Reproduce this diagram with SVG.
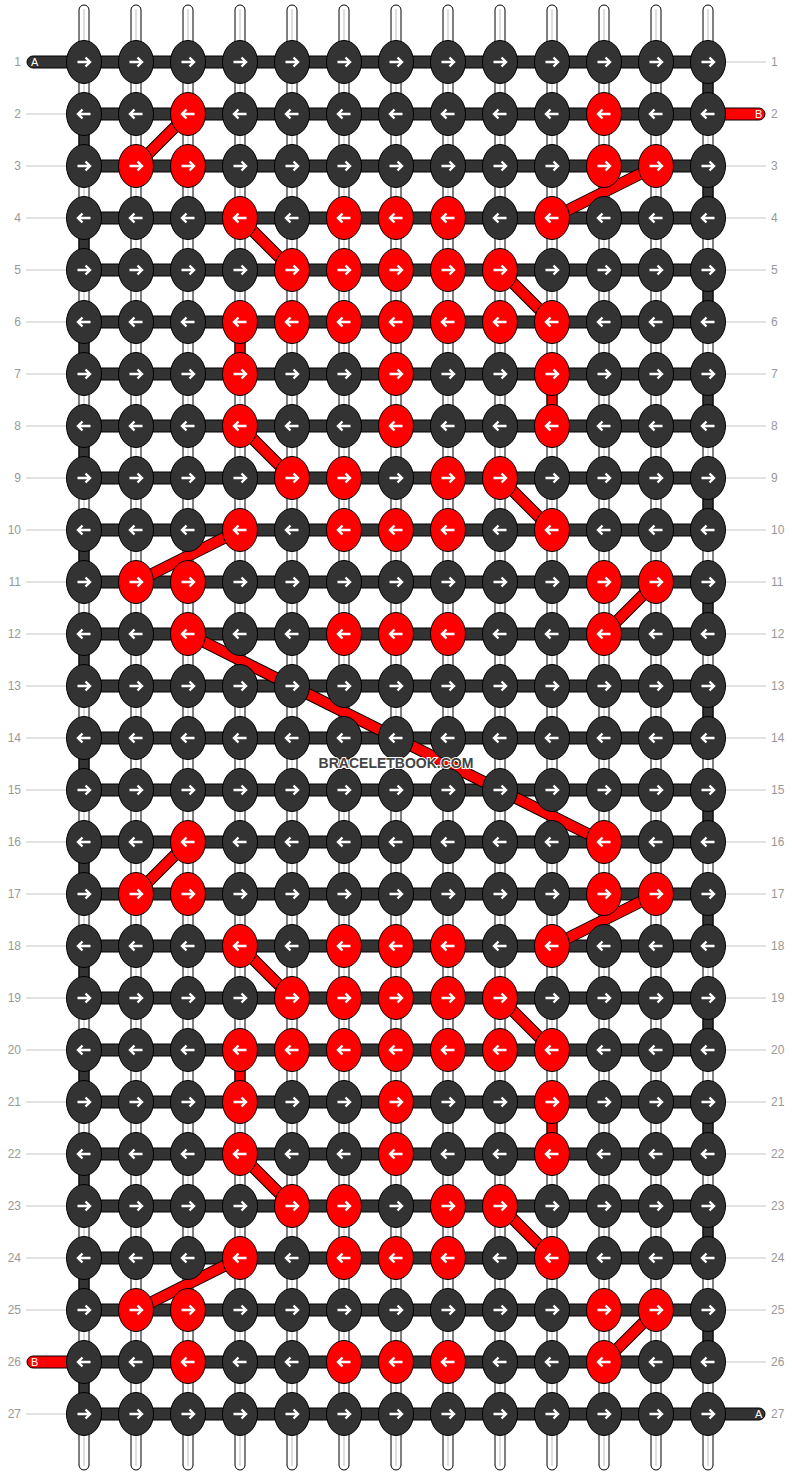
<svg xmlns="http://www.w3.org/2000/svg" xmlns:xlink="http://www.w3.org/1999/xlink" width="792" height="1476" viewBox="0 0 792 1476">
<style>
.ws{fill:#fff;stroke:#000;stroke-width:1}
.wl{stroke:#bbb;stroke-width:1}
.hb{fill:#333;stroke:#000;stroke-width:1}
.rb{fill:#f00;stroke:#000;stroke-width:1}
.ro{stroke:#000;stroke-width:12;fill:none}
.ri{stroke:#f00;stroke-width:10;fill:none}
.gl{stroke:#c4c4c4;stroke-width:1}
.lb{font-family:"Liberation Sans",Arial,sans-serif;font-size:12px;fill:#999}
.lr{text-anchor:end}
.tl{font-family:"Liberation Sans",Arial,sans-serif;font-size:11px;fill:#fff}
.wm{font-family:"Liberation Sans",Arial,sans-serif;font-size:14px;font-weight:bold;fill:#444;stroke:#fff;stroke-width:2;paint-order:stroke;text-anchor:middle}
</style>
<defs>
<path id="aR" d="M-6.5,0H5.5M1.5,-4.5L6,0L1.5,4.5" fill="none" stroke="#fff" stroke-width="2.4"/>
<path id="aL" d="M6.5,0H-5.5M-1.5,-4.5L-6,0L-1.5,4.5" fill="none" stroke="#fff" stroke-width="2.4"/>
<g id="dR"><ellipse rx="17.5" ry="21.5" fill="#333" stroke="#000"/><use href="#aR"/></g>
<g id="dL"><ellipse rx="17.5" ry="21.5" fill="#333" stroke="#000"/><use href="#aL"/></g>
<g id="rR"><ellipse rx="17.5" ry="21.5" fill="#f00" stroke="#000"/><use href="#aR"/></g>
<g id="rL"><ellipse rx="17.5" ry="21.5" fill="#f00" stroke="#000"/><use href="#aL"/></g>
</defs>
<rect width="792" height="1476" fill="#fff"/>
<g id="labels">
<text class="lb lr" x="21" y="66">1</text><text class="lb" x="771" y="66">1</text>
<text class="lb lr" x="21" y="118">2</text><text class="lb" x="771" y="118">2</text>
<text class="lb lr" x="21" y="170">3</text><text class="lb" x="771" y="170">3</text>
<text class="lb lr" x="21" y="222">4</text><text class="lb" x="771" y="222">4</text>
<text class="lb lr" x="21" y="274">5</text><text class="lb" x="771" y="274">5</text>
<text class="lb lr" x="21" y="326">6</text><text class="lb" x="771" y="326">6</text>
<text class="lb lr" x="21" y="378">7</text><text class="lb" x="771" y="378">7</text>
<text class="lb lr" x="21" y="430">8</text><text class="lb" x="771" y="430">8</text>
<text class="lb lr" x="21" y="482">9</text><text class="lb" x="771" y="482">9</text>
<text class="lb lr" x="21" y="534">10</text><text class="lb" x="771" y="534">10</text>
<text class="lb lr" x="21" y="586">11</text><text class="lb" x="771" y="586">11</text>
<text class="lb lr" x="21" y="638">12</text><text class="lb" x="771" y="638">12</text>
<text class="lb lr" x="21" y="690">13</text><text class="lb" x="771" y="690">13</text>
<text class="lb lr" x="21" y="742">14</text><text class="lb" x="771" y="742">14</text>
<text class="lb lr" x="21" y="794">15</text><text class="lb" x="771" y="794">15</text>
<text class="lb lr" x="21" y="846">16</text><text class="lb" x="771" y="846">16</text>
<text class="lb lr" x="21" y="898">17</text><text class="lb" x="771" y="898">17</text>
<text class="lb lr" x="21" y="950">18</text><text class="lb" x="771" y="950">18</text>
<text class="lb lr" x="21" y="1002">19</text><text class="lb" x="771" y="1002">19</text>
<text class="lb lr" x="21" y="1054">20</text><text class="lb" x="771" y="1054">20</text>
<text class="lb lr" x="21" y="1106">21</text><text class="lb" x="771" y="1106">21</text>
<text class="lb lr" x="21" y="1158">22</text><text class="lb" x="771" y="1158">22</text>
<text class="lb lr" x="21" y="1210">23</text><text class="lb" x="771" y="1210">23</text>
<text class="lb lr" x="21" y="1262">24</text><text class="lb" x="771" y="1262">24</text>
<text class="lb lr" x="21" y="1314">25</text><text class="lb" x="771" y="1314">25</text>
<text class="lb lr" x="21" y="1366">26</text><text class="lb" x="771" y="1366">26</text>
<text class="lb lr" x="21" y="1418">27</text><text class="lb" x="771" y="1418">27</text>
</g>
<g id="guides">
<path class="gl" d="M26,114H84M26,166H84M26,218H84M26,270H84M26,322H84M26,374H84M26,426H84M26,478H84M26,530H84M26,582H84M26,634H84M26,686H84M26,738H84M26,790H84M26,842H84M26,894H84M26,946H84M26,998H84M26,1050H84M26,1102H84M26,1154H84M26,1206H84M26,1258H84M26,1310H84M26,1414H84"/>
<path class="gl" d="M708,62H766M708,166H766M708,218H766M708,270H766M708,322H766M708,374H766M708,426H766M708,478H766M708,530H766M708,582H766M708,634H766M708,686H766M708,738H766M708,790H766M708,842H766M708,894H766M708,946H766M708,998H766M708,1050H766M708,1102H766M708,1154H766M708,1206H766M708,1258H766M708,1310H766M708,1362H766"/>
</g>
<g id="connectors">
<g id="strings">
<rect class="ws" x="79" y="5" width="10" height="1465" rx="5"/>
<rect class="ws" x="131" y="5" width="10" height="1465" rx="5"/>
<rect class="ws" x="183" y="5" width="10" height="1465" rx="5"/>
<rect class="ws" x="235" y="5" width="10" height="1465" rx="5"/>
<rect class="ws" x="287" y="5" width="10" height="1465" rx="5"/>
<rect class="ws" x="339" y="5" width="10" height="1465" rx="5"/>
<rect class="ws" x="391" y="5" width="10" height="1465" rx="5"/>
<rect class="ws" x="443" y="5" width="10" height="1465" rx="5"/>
<rect class="ws" x="495" y="5" width="10" height="1465" rx="5"/>
<rect class="ws" x="547" y="5" width="10" height="1465" rx="5"/>
<rect class="ws" x="599" y="5" width="10" height="1465" rx="5"/>
<rect class="ws" x="651" y="5" width="10" height="1465" rx="5"/>
<rect class="ws" x="703" y="5" width="10" height="1465" rx="5"/>
<path class="wl" d="M84,9V1466M136,9V1466M188,9V1466M240,9V1466M292,9V1466M344,9V1466M396,9V1466M448,9V1466M500,9V1466M552,9V1466M604,9V1466M656,9V1466M708,9V1466"/>
</g>
<g id="rows">
<rect class="hb" x="27" y="56" width="681" height="12" rx="6"/>
<rect class="hb" x="84" y="108" width="624" height="12"/>
<rect class="rb" x="708" y="108" width="57" height="12" rx="6"/>
<rect class="hb" x="84" y="160" width="624" height="12"/>
<rect class="hb" x="84" y="212" width="624" height="12"/>
<rect class="hb" x="84" y="264" width="624" height="12"/>
<rect class="hb" x="84" y="316" width="624" height="12"/>
<rect class="hb" x="84" y="368" width="624" height="12"/>
<rect class="hb" x="84" y="420" width="624" height="12"/>
<rect class="hb" x="84" y="472" width="624" height="12"/>
<rect class="hb" x="84" y="524" width="624" height="12"/>
<rect class="hb" x="84" y="576" width="624" height="12"/>
<rect class="hb" x="84" y="628" width="624" height="12"/>
<rect class="hb" x="84" y="680" width="624" height="12"/>
<rect class="hb" x="84" y="732" width="624" height="12"/>
<rect class="hb" x="84" y="784" width="624" height="12"/>
<rect class="hb" x="84" y="836" width="624" height="12"/>
<rect class="hb" x="84" y="888" width="624" height="12"/>
<rect class="hb" x="84" y="940" width="624" height="12"/>
<rect class="hb" x="84" y="992" width="624" height="12"/>
<rect class="hb" x="84" y="1044" width="624" height="12"/>
<rect class="hb" x="84" y="1096" width="624" height="12"/>
<rect class="hb" x="84" y="1148" width="624" height="12"/>
<rect class="hb" x="84" y="1200" width="624" height="12"/>
<rect class="hb" x="84" y="1252" width="624" height="12"/>
<rect class="hb" x="84" y="1304" width="624" height="12"/>
<rect class="rb" x="27" y="1356" width="57" height="12" rx="6"/>
<rect class="hb" x="84" y="1356" width="624" height="12"/>
<rect class="hb" x="84" y="1408" width="681" height="12" rx="6"/>
<text class="tl" x="31" y="66">A</text>
<text class="tl" x="755" y="118">B</text>
<text class="tl" x="31" y="1366">B</text>
<text class="tl" x="755" y="1418">A</text>
</g>
<g id="turns">
<rect class="hb" x="703" y="62" width="10" height="52"/>
<rect class="hb" x="79" y="114" width="10" height="52"/>
<rect class="hb" x="703" y="166" width="10" height="52"/>
<rect class="hb" x="79" y="218" width="10" height="52"/>
<rect class="hb" x="703" y="270" width="10" height="52"/>
<rect class="hb" x="79" y="322" width="10" height="52"/>
<rect class="hb" x="703" y="374" width="10" height="52"/>
<rect class="hb" x="79" y="426" width="10" height="52"/>
<rect class="hb" x="703" y="478" width="10" height="52"/>
<rect class="hb" x="79" y="530" width="10" height="52"/>
<rect class="hb" x="703" y="582" width="10" height="52"/>
<rect class="hb" x="79" y="634" width="10" height="52"/>
<rect class="hb" x="703" y="686" width="10" height="52"/>
<rect class="hb" x="79" y="738" width="10" height="52"/>
<rect class="hb" x="703" y="790" width="10" height="52"/>
<rect class="hb" x="79" y="842" width="10" height="52"/>
<rect class="hb" x="703" y="894" width="10" height="52"/>
<rect class="hb" x="79" y="946" width="10" height="52"/>
<rect class="hb" x="703" y="998" width="10" height="52"/>
<rect class="hb" x="79" y="1050" width="10" height="52"/>
<rect class="hb" x="703" y="1102" width="10" height="52"/>
<rect class="hb" x="79" y="1154" width="10" height="52"/>
<rect class="hb" x="703" y="1206" width="10" height="52"/>
<rect class="hb" x="79" y="1258" width="10" height="52"/>
<rect class="hb" x="703" y="1310" width="10" height="52"/>
<rect class="hb" x="79" y="1362" width="10" height="52"/>
<rect class="rb" x="235" y="322" width="10" height="52"/>
<rect class="rb" x="547" y="374" width="10" height="52"/>
<rect class="rb" x="235" y="1050" width="10" height="52"/>
<rect class="rb" x="547" y="1102" width="10" height="52"/>
</g>
<g id="red-lines">
<path class="ro" d="M188,114L136,166M656,166L552,218M240,218L292,270M500,270L552,322M240,426L292,478M500,478L552,530M240,530L136,582M656,582L604,634M188,634L604,842M188,842L136,894M656,894L552,946M240,946L292,998M500,998L552,1050M240,1154L292,1206M500,1206L552,1258M240,1258L136,1310M656,1310L604,1362"/>
<path class="ri" d="M188,114L136,166M656,166L552,218M240,218L292,270M500,270L552,322M240,426L292,478M500,478L552,530M240,530L136,582M656,582L604,634M188,634L604,842M188,842L136,894M656,894L552,946M240,946L292,998M500,998L552,1050M240,1154L292,1206M500,1206L552,1258M240,1258L136,1310M656,1310L604,1362"/>
</g>
</g>
<g id="knots">
<g id="k1-1"><use href="#dR" x="84" y="62"/></g><g id="k1-2"><use href="#dR" x="136" y="62"/></g><g id="k1-3"><use href="#dR" x="188" y="62"/></g><g id="k1-4"><use href="#dR" x="240" y="62"/></g><g id="k1-5"><use href="#dR" x="292" y="62"/></g><g id="k1-6"><use href="#dR" x="344" y="62"/></g><g id="k1-7"><use href="#dR" x="396" y="62"/></g><g id="k1-8"><use href="#dR" x="448" y="62"/></g><g id="k1-9"><use href="#dR" x="500" y="62"/></g><g id="k1-10"><use href="#dR" x="552" y="62"/></g><g id="k1-11"><use href="#dR" x="604" y="62"/></g><g id="k1-12"><use href="#dR" x="656" y="62"/></g><g id="k1-13"><use href="#dR" x="708" y="62"/></g>
<g id="k2-1"><use href="#dL" x="84" y="114"/></g><g id="k2-2"><use href="#dL" x="136" y="114"/></g><g id="k2-3"><use href="#rL" x="188" y="114"/></g><g id="k2-4"><use href="#dL" x="240" y="114"/></g><g id="k2-5"><use href="#dL" x="292" y="114"/></g><g id="k2-6"><use href="#dL" x="344" y="114"/></g><g id="k2-7"><use href="#dL" x="396" y="114"/></g><g id="k2-8"><use href="#dL" x="448" y="114"/></g><g id="k2-9"><use href="#dL" x="500" y="114"/></g><g id="k2-10"><use href="#dL" x="552" y="114"/></g><g id="k2-11"><use href="#rL" x="604" y="114"/></g><g id="k2-12"><use href="#dL" x="656" y="114"/></g><g id="k2-13"><use href="#dL" x="708" y="114"/></g>
<g id="k3-1"><use href="#dR" x="84" y="166"/></g><g id="k3-2"><use href="#rR" x="136" y="166"/></g><g id="k3-3"><use href="#rR" x="188" y="166"/></g><g id="k3-4"><use href="#dR" x="240" y="166"/></g><g id="k3-5"><use href="#dR" x="292" y="166"/></g><g id="k3-6"><use href="#dR" x="344" y="166"/></g><g id="k3-7"><use href="#dR" x="396" y="166"/></g><g id="k3-8"><use href="#dR" x="448" y="166"/></g><g id="k3-9"><use href="#dR" x="500" y="166"/></g><g id="k3-10"><use href="#dR" x="552" y="166"/></g><g id="k3-11"><use href="#rR" x="604" y="166"/></g><g id="k3-12"><use href="#rR" x="656" y="166"/></g><g id="k3-13"><use href="#dR" x="708" y="166"/></g>
<g id="k4-1"><use href="#dL" x="84" y="218"/></g><g id="k4-2"><use href="#dL" x="136" y="218"/></g><g id="k4-3"><use href="#dL" x="188" y="218"/></g><g id="k4-4"><use href="#rL" x="240" y="218"/></g><g id="k4-5"><use href="#dL" x="292" y="218"/></g><g id="k4-6"><use href="#rL" x="344" y="218"/></g><g id="k4-7"><use href="#rL" x="396" y="218"/></g><g id="k4-8"><use href="#rL" x="448" y="218"/></g><g id="k4-9"><use href="#dL" x="500" y="218"/></g><g id="k4-10"><use href="#rL" x="552" y="218"/></g><g id="k4-11"><use href="#dL" x="604" y="218"/></g><g id="k4-12"><use href="#dL" x="656" y="218"/></g><g id="k4-13"><use href="#dL" x="708" y="218"/></g>
<g id="k5-1"><use href="#dR" x="84" y="270"/></g><g id="k5-2"><use href="#dR" x="136" y="270"/></g><g id="k5-3"><use href="#dR" x="188" y="270"/></g><g id="k5-4"><use href="#dR" x="240" y="270"/></g><g id="k5-5"><use href="#rR" x="292" y="270"/></g><g id="k5-6"><use href="#rR" x="344" y="270"/></g><g id="k5-7"><use href="#rR" x="396" y="270"/></g><g id="k5-8"><use href="#rR" x="448" y="270"/></g><g id="k5-9"><use href="#rR" x="500" y="270"/></g><g id="k5-10"><use href="#dR" x="552" y="270"/></g><g id="k5-11"><use href="#dR" x="604" y="270"/></g><g id="k5-12"><use href="#dR" x="656" y="270"/></g><g id="k5-13"><use href="#dR" x="708" y="270"/></g>
<g id="k6-1"><use href="#dL" x="84" y="322"/></g><g id="k6-2"><use href="#dL" x="136" y="322"/></g><g id="k6-3"><use href="#dL" x="188" y="322"/></g><g id="k6-4"><use href="#rL" x="240" y="322"/></g><g id="k6-5"><use href="#rL" x="292" y="322"/></g><g id="k6-6"><use href="#rL" x="344" y="322"/></g><g id="k6-7"><use href="#rL" x="396" y="322"/></g><g id="k6-8"><use href="#rL" x="448" y="322"/></g><g id="k6-9"><use href="#rL" x="500" y="322"/></g><g id="k6-10"><use href="#rL" x="552" y="322"/></g><g id="k6-11"><use href="#dL" x="604" y="322"/></g><g id="k6-12"><use href="#dL" x="656" y="322"/></g><g id="k6-13"><use href="#dL" x="708" y="322"/></g>
<g id="k7-1"><use href="#dR" x="84" y="374"/></g><g id="k7-2"><use href="#dR" x="136" y="374"/></g><g id="k7-3"><use href="#dR" x="188" y="374"/></g><g id="k7-4"><use href="#rR" x="240" y="374"/></g><g id="k7-5"><use href="#dR" x="292" y="374"/></g><g id="k7-6"><use href="#dR" x="344" y="374"/></g><g id="k7-7"><use href="#rR" x="396" y="374"/></g><g id="k7-8"><use href="#dR" x="448" y="374"/></g><g id="k7-9"><use href="#dR" x="500" y="374"/></g><g id="k7-10"><use href="#rR" x="552" y="374"/></g><g id="k7-11"><use href="#dR" x="604" y="374"/></g><g id="k7-12"><use href="#dR" x="656" y="374"/></g><g id="k7-13"><use href="#dR" x="708" y="374"/></g>
<g id="k8-1"><use href="#dL" x="84" y="426"/></g><g id="k8-2"><use href="#dL" x="136" y="426"/></g><g id="k8-3"><use href="#dL" x="188" y="426"/></g><g id="k8-4"><use href="#rL" x="240" y="426"/></g><g id="k8-5"><use href="#dL" x="292" y="426"/></g><g id="k8-6"><use href="#dL" x="344" y="426"/></g><g id="k8-7"><use href="#rL" x="396" y="426"/></g><g id="k8-8"><use href="#dL" x="448" y="426"/></g><g id="k8-9"><use href="#dL" x="500" y="426"/></g><g id="k8-10"><use href="#rL" x="552" y="426"/></g><g id="k8-11"><use href="#dL" x="604" y="426"/></g><g id="k8-12"><use href="#dL" x="656" y="426"/></g><g id="k8-13"><use href="#dL" x="708" y="426"/></g>
<g id="k9-1"><use href="#dR" x="84" y="478"/></g><g id="k9-2"><use href="#dR" x="136" y="478"/></g><g id="k9-3"><use href="#dR" x="188" y="478"/></g><g id="k9-4"><use href="#dR" x="240" y="478"/></g><g id="k9-5"><use href="#rR" x="292" y="478"/></g><g id="k9-6"><use href="#rR" x="344" y="478"/></g><g id="k9-7"><use href="#dR" x="396" y="478"/></g><g id="k9-8"><use href="#rR" x="448" y="478"/></g><g id="k9-9"><use href="#rR" x="500" y="478"/></g><g id="k9-10"><use href="#dR" x="552" y="478"/></g><g id="k9-11"><use href="#dR" x="604" y="478"/></g><g id="k9-12"><use href="#dR" x="656" y="478"/></g><g id="k9-13"><use href="#dR" x="708" y="478"/></g>
<g id="k10-1"><use href="#dL" x="84" y="530"/></g><g id="k10-2"><use href="#dL" x="136" y="530"/></g><g id="k10-3"><use href="#dL" x="188" y="530"/></g><g id="k10-4"><use href="#rL" x="240" y="530"/></g><g id="k10-5"><use href="#dL" x="292" y="530"/></g><g id="k10-6"><use href="#rL" x="344" y="530"/></g><g id="k10-7"><use href="#rL" x="396" y="530"/></g><g id="k10-8"><use href="#rL" x="448" y="530"/></g><g id="k10-9"><use href="#dL" x="500" y="530"/></g><g id="k10-10"><use href="#rL" x="552" y="530"/></g><g id="k10-11"><use href="#dL" x="604" y="530"/></g><g id="k10-12"><use href="#dL" x="656" y="530"/></g><g id="k10-13"><use href="#dL" x="708" y="530"/></g>
<g id="k11-1"><use href="#dR" x="84" y="582"/></g><g id="k11-2"><use href="#rR" x="136" y="582"/></g><g id="k11-3"><use href="#rR" x="188" y="582"/></g><g id="k11-4"><use href="#dR" x="240" y="582"/></g><g id="k11-5"><use href="#dR" x="292" y="582"/></g><g id="k11-6"><use href="#dR" x="344" y="582"/></g><g id="k11-7"><use href="#dR" x="396" y="582"/></g><g id="k11-8"><use href="#dR" x="448" y="582"/></g><g id="k11-9"><use href="#dR" x="500" y="582"/></g><g id="k11-10"><use href="#dR" x="552" y="582"/></g><g id="k11-11"><use href="#rR" x="604" y="582"/></g><g id="k11-12"><use href="#rR" x="656" y="582"/></g><g id="k11-13"><use href="#dR" x="708" y="582"/></g>
<g id="k12-1"><use href="#dL" x="84" y="634"/></g><g id="k12-2"><use href="#dL" x="136" y="634"/></g><g id="k12-3"><use href="#rL" x="188" y="634"/></g><g id="k12-4"><use href="#dL" x="240" y="634"/></g><g id="k12-5"><use href="#dL" x="292" y="634"/></g><g id="k12-6"><use href="#rL" x="344" y="634"/></g><g id="k12-7"><use href="#rL" x="396" y="634"/></g><g id="k12-8"><use href="#rL" x="448" y="634"/></g><g id="k12-9"><use href="#dL" x="500" y="634"/></g><g id="k12-10"><use href="#dL" x="552" y="634"/></g><g id="k12-11"><use href="#rL" x="604" y="634"/></g><g id="k12-12"><use href="#dL" x="656" y="634"/></g><g id="k12-13"><use href="#dL" x="708" y="634"/></g>
<g id="k13-1"><use href="#dR" x="84" y="686"/></g><g id="k13-2"><use href="#dR" x="136" y="686"/></g><g id="k13-3"><use href="#dR" x="188" y="686"/></g><g id="k13-4"><use href="#dR" x="240" y="686"/></g><g id="k13-5"><use href="#dR" x="292" y="686"/></g><g id="k13-6"><use href="#dR" x="344" y="686"/></g><g id="k13-7"><use href="#dR" x="396" y="686"/></g><g id="k13-8"><use href="#dR" x="448" y="686"/></g><g id="k13-9"><use href="#dR" x="500" y="686"/></g><g id="k13-10"><use href="#dR" x="552" y="686"/></g><g id="k13-11"><use href="#dR" x="604" y="686"/></g><g id="k13-12"><use href="#dR" x="656" y="686"/></g><g id="k13-13"><use href="#dR" x="708" y="686"/></g>
<g id="k14-1"><use href="#dL" x="84" y="738"/></g><g id="k14-2"><use href="#dL" x="136" y="738"/></g><g id="k14-3"><use href="#dL" x="188" y="738"/></g><g id="k14-4"><use href="#dL" x="240" y="738"/></g><g id="k14-5"><use href="#dL" x="292" y="738"/></g><g id="k14-6"><use href="#dL" x="344" y="738"/></g><g id="k14-7"><use href="#dL" x="396" y="738"/></g><g id="k14-8"><use href="#dL" x="448" y="738"/></g><g id="k14-9"><use href="#dL" x="500" y="738"/></g><g id="k14-10"><use href="#dL" x="552" y="738"/></g><g id="k14-11"><use href="#dL" x="604" y="738"/></g><g id="k14-12"><use href="#dL" x="656" y="738"/></g><g id="k14-13"><use href="#dL" x="708" y="738"/></g>
<g id="k15-1"><use href="#dR" x="84" y="790"/></g><g id="k15-2"><use href="#dR" x="136" y="790"/></g><g id="k15-3"><use href="#dR" x="188" y="790"/></g><g id="k15-4"><use href="#dR" x="240" y="790"/></g><g id="k15-5"><use href="#dR" x="292" y="790"/></g><g id="k15-6"><use href="#dR" x="344" y="790"/></g><g id="k15-7"><use href="#dR" x="396" y="790"/></g><g id="k15-8"><use href="#dR" x="448" y="790"/></g><g id="k15-9"><use href="#dR" x="500" y="790"/></g><g id="k15-10"><use href="#dR" x="552" y="790"/></g><g id="k15-11"><use href="#dR" x="604" y="790"/></g><g id="k15-12"><use href="#dR" x="656" y="790"/></g><g id="k15-13"><use href="#dR" x="708" y="790"/></g>
<g id="k16-1"><use href="#dL" x="84" y="842"/></g><g id="k16-2"><use href="#dL" x="136" y="842"/></g><g id="k16-3"><use href="#rL" x="188" y="842"/></g><g id="k16-4"><use href="#dL" x="240" y="842"/></g><g id="k16-5"><use href="#dL" x="292" y="842"/></g><g id="k16-6"><use href="#dL" x="344" y="842"/></g><g id="k16-7"><use href="#dL" x="396" y="842"/></g><g id="k16-8"><use href="#dL" x="448" y="842"/></g><g id="k16-9"><use href="#dL" x="500" y="842"/></g><g id="k16-10"><use href="#dL" x="552" y="842"/></g><g id="k16-11"><use href="#rL" x="604" y="842"/></g><g id="k16-12"><use href="#dL" x="656" y="842"/></g><g id="k16-13"><use href="#dL" x="708" y="842"/></g>
<g id="k17-1"><use href="#dR" x="84" y="894"/></g><g id="k17-2"><use href="#rR" x="136" y="894"/></g><g id="k17-3"><use href="#rR" x="188" y="894"/></g><g id="k17-4"><use href="#dR" x="240" y="894"/></g><g id="k17-5"><use href="#dR" x="292" y="894"/></g><g id="k17-6"><use href="#dR" x="344" y="894"/></g><g id="k17-7"><use href="#dR" x="396" y="894"/></g><g id="k17-8"><use href="#dR" x="448" y="894"/></g><g id="k17-9"><use href="#dR" x="500" y="894"/></g><g id="k17-10"><use href="#dR" x="552" y="894"/></g><g id="k17-11"><use href="#rR" x="604" y="894"/></g><g id="k17-12"><use href="#rR" x="656" y="894"/></g><g id="k17-13"><use href="#dR" x="708" y="894"/></g>
<g id="k18-1"><use href="#dL" x="84" y="946"/></g><g id="k18-2"><use href="#dL" x="136" y="946"/></g><g id="k18-3"><use href="#dL" x="188" y="946"/></g><g id="k18-4"><use href="#rL" x="240" y="946"/></g><g id="k18-5"><use href="#dL" x="292" y="946"/></g><g id="k18-6"><use href="#rL" x="344" y="946"/></g><g id="k18-7"><use href="#rL" x="396" y="946"/></g><g id="k18-8"><use href="#rL" x="448" y="946"/></g><g id="k18-9"><use href="#dL" x="500" y="946"/></g><g id="k18-10"><use href="#rL" x="552" y="946"/></g><g id="k18-11"><use href="#dL" x="604" y="946"/></g><g id="k18-12"><use href="#dL" x="656" y="946"/></g><g id="k18-13"><use href="#dL" x="708" y="946"/></g>
<g id="k19-1"><use href="#dR" x="84" y="998"/></g><g id="k19-2"><use href="#dR" x="136" y="998"/></g><g id="k19-3"><use href="#dR" x="188" y="998"/></g><g id="k19-4"><use href="#dR" x="240" y="998"/></g><g id="k19-5"><use href="#rR" x="292" y="998"/></g><g id="k19-6"><use href="#rR" x="344" y="998"/></g><g id="k19-7"><use href="#rR" x="396" y="998"/></g><g id="k19-8"><use href="#rR" x="448" y="998"/></g><g id="k19-9"><use href="#rR" x="500" y="998"/></g><g id="k19-10"><use href="#dR" x="552" y="998"/></g><g id="k19-11"><use href="#dR" x="604" y="998"/></g><g id="k19-12"><use href="#dR" x="656" y="998"/></g><g id="k19-13"><use href="#dR" x="708" y="998"/></g>
<g id="k20-1"><use href="#dL" x="84" y="1050"/></g><g id="k20-2"><use href="#dL" x="136" y="1050"/></g><g id="k20-3"><use href="#dL" x="188" y="1050"/></g><g id="k20-4"><use href="#rL" x="240" y="1050"/></g><g id="k20-5"><use href="#rL" x="292" y="1050"/></g><g id="k20-6"><use href="#rL" x="344" y="1050"/></g><g id="k20-7"><use href="#rL" x="396" y="1050"/></g><g id="k20-8"><use href="#rL" x="448" y="1050"/></g><g id="k20-9"><use href="#rL" x="500" y="1050"/></g><g id="k20-10"><use href="#rL" x="552" y="1050"/></g><g id="k20-11"><use href="#dL" x="604" y="1050"/></g><g id="k20-12"><use href="#dL" x="656" y="1050"/></g><g id="k20-13"><use href="#dL" x="708" y="1050"/></g>
<g id="k21-1"><use href="#dR" x="84" y="1102"/></g><g id="k21-2"><use href="#dR" x="136" y="1102"/></g><g id="k21-3"><use href="#dR" x="188" y="1102"/></g><g id="k21-4"><use href="#rR" x="240" y="1102"/></g><g id="k21-5"><use href="#dR" x="292" y="1102"/></g><g id="k21-6"><use href="#dR" x="344" y="1102"/></g><g id="k21-7"><use href="#rR" x="396" y="1102"/></g><g id="k21-8"><use href="#dR" x="448" y="1102"/></g><g id="k21-9"><use href="#dR" x="500" y="1102"/></g><g id="k21-10"><use href="#rR" x="552" y="1102"/></g><g id="k21-11"><use href="#dR" x="604" y="1102"/></g><g id="k21-12"><use href="#dR" x="656" y="1102"/></g><g id="k21-13"><use href="#dR" x="708" y="1102"/></g>
<g id="k22-1"><use href="#dL" x="84" y="1154"/></g><g id="k22-2"><use href="#dL" x="136" y="1154"/></g><g id="k22-3"><use href="#dL" x="188" y="1154"/></g><g id="k22-4"><use href="#rL" x="240" y="1154"/></g><g id="k22-5"><use href="#dL" x="292" y="1154"/></g><g id="k22-6"><use href="#dL" x="344" y="1154"/></g><g id="k22-7"><use href="#rL" x="396" y="1154"/></g><g id="k22-8"><use href="#dL" x="448" y="1154"/></g><g id="k22-9"><use href="#dL" x="500" y="1154"/></g><g id="k22-10"><use href="#rL" x="552" y="1154"/></g><g id="k22-11"><use href="#dL" x="604" y="1154"/></g><g id="k22-12"><use href="#dL" x="656" y="1154"/></g><g id="k22-13"><use href="#dL" x="708" y="1154"/></g>
<g id="k23-1"><use href="#dR" x="84" y="1206"/></g><g id="k23-2"><use href="#dR" x="136" y="1206"/></g><g id="k23-3"><use href="#dR" x="188" y="1206"/></g><g id="k23-4"><use href="#dR" x="240" y="1206"/></g><g id="k23-5"><use href="#rR" x="292" y="1206"/></g><g id="k23-6"><use href="#rR" x="344" y="1206"/></g><g id="k23-7"><use href="#dR" x="396" y="1206"/></g><g id="k23-8"><use href="#rR" x="448" y="1206"/></g><g id="k23-9"><use href="#rR" x="500" y="1206"/></g><g id="k23-10"><use href="#dR" x="552" y="1206"/></g><g id="k23-11"><use href="#dR" x="604" y="1206"/></g><g id="k23-12"><use href="#dR" x="656" y="1206"/></g><g id="k23-13"><use href="#dR" x="708" y="1206"/></g>
<g id="k24-1"><use href="#dL" x="84" y="1258"/></g><g id="k24-2"><use href="#dL" x="136" y="1258"/></g><g id="k24-3"><use href="#dL" x="188" y="1258"/></g><g id="k24-4"><use href="#rL" x="240" y="1258"/></g><g id="k24-5"><use href="#dL" x="292" y="1258"/></g><g id="k24-6"><use href="#rL" x="344" y="1258"/></g><g id="k24-7"><use href="#rL" x="396" y="1258"/></g><g id="k24-8"><use href="#rL" x="448" y="1258"/></g><g id="k24-9"><use href="#dL" x="500" y="1258"/></g><g id="k24-10"><use href="#rL" x="552" y="1258"/></g><g id="k24-11"><use href="#dL" x="604" y="1258"/></g><g id="k24-12"><use href="#dL" x="656" y="1258"/></g><g id="k24-13"><use href="#dL" x="708" y="1258"/></g>
<g id="k25-1"><use href="#dR" x="84" y="1310"/></g><g id="k25-2"><use href="#rR" x="136" y="1310"/></g><g id="k25-3"><use href="#rR" x="188" y="1310"/></g><g id="k25-4"><use href="#dR" x="240" y="1310"/></g><g id="k25-5"><use href="#dR" x="292" y="1310"/></g><g id="k25-6"><use href="#dR" x="344" y="1310"/></g><g id="k25-7"><use href="#dR" x="396" y="1310"/></g><g id="k25-8"><use href="#dR" x="448" y="1310"/></g><g id="k25-9"><use href="#dR" x="500" y="1310"/></g><g id="k25-10"><use href="#dR" x="552" y="1310"/></g><g id="k25-11"><use href="#rR" x="604" y="1310"/></g><g id="k25-12"><use href="#rR" x="656" y="1310"/></g><g id="k25-13"><use href="#dR" x="708" y="1310"/></g>
<g id="k26-1"><use href="#dL" x="84" y="1362"/></g><g id="k26-2"><use href="#dL" x="136" y="1362"/></g><g id="k26-3"><use href="#rL" x="188" y="1362"/></g><g id="k26-4"><use href="#dL" x="240" y="1362"/></g><g id="k26-5"><use href="#dL" x="292" y="1362"/></g><g id="k26-6"><use href="#rL" x="344" y="1362"/></g><g id="k26-7"><use href="#rL" x="396" y="1362"/></g><g id="k26-8"><use href="#rL" x="448" y="1362"/></g><g id="k26-9"><use href="#dL" x="500" y="1362"/></g><g id="k26-10"><use href="#dL" x="552" y="1362"/></g><g id="k26-11"><use href="#rL" x="604" y="1362"/></g><g id="k26-12"><use href="#dL" x="656" y="1362"/></g><g id="k26-13"><use href="#dL" x="708" y="1362"/></g>
<g id="k27-1"><use href="#dR" x="84" y="1414"/></g><g id="k27-2"><use href="#dR" x="136" y="1414"/></g><g id="k27-3"><use href="#dR" x="188" y="1414"/></g><g id="k27-4"><use href="#dR" x="240" y="1414"/></g><g id="k27-5"><use href="#dR" x="292" y="1414"/></g><g id="k27-6"><use href="#dR" x="344" y="1414"/></g><g id="k27-7"><use href="#dR" x="396" y="1414"/></g><g id="k27-8"><use href="#dR" x="448" y="1414"/></g><g id="k27-9"><use href="#dR" x="500" y="1414"/></g><g id="k27-10"><use href="#dR" x="552" y="1414"/></g><g id="k27-11"><use href="#dR" x="604" y="1414"/></g><g id="k27-12"><use href="#dR" x="656" y="1414"/></g><g id="k27-13"><use href="#dR" x="708" y="1414"/></g>
</g>
<text class="wm" x="396" y="768">BRACELETBOOK.COM</text>
</svg>
